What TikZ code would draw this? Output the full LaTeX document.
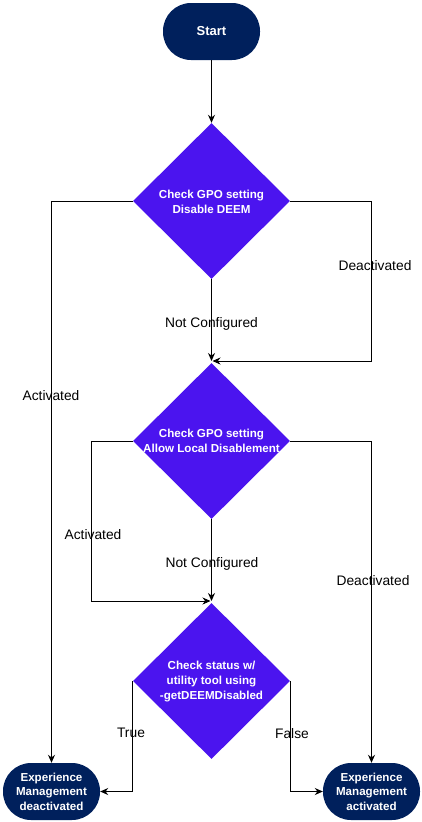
\documentclass[tikz,border=0pt]{standalone}
\usepackage{fontspec}
\setmainfont{Liberation Sans}
\usetikzlibrary{arrows.meta,shapes.geometric}
\definecolor{navy}{HTML}{00205C}
\definecolor{violet}{HTML}{4B14EF}
\begin{document}
\begin{tikzpicture}[x=1pt,y=-1pt,
  term/.style={fill=navy, draw=none, rounded corners=28pt, minimum width=97pt, minimum height=57pt, inner sep=0pt,
    text=white, font=\fontsize{11.6}{14.5}\selectfont\bfseries, align=center},
  dia/.style={diamond, fill=violet, draw=none, minimum width=157pt, minimum height=156pt, inner sep=0pt},
  diatext/.style={text=white, font=\fontsize{11.6}{15}\selectfont\bfseries, align=center, inner sep=0pt},
  conn/.style={draw=black, line width=0.9pt, -{Stealth[length=8pt,width=7pt]}},
  lab/.style={font=\fontsize{13.8}{16}\selectfont, text=black, inner sep=0pt}]
\useasboundingbox (0,0) rectangle (422,822);
\node[term, font=\fontsize{13}{15}\selectfont\bfseries] (start) at (211.5,31.5) {Start};
\node[dia] (d1) at (211.5,201) {};
\node[diatext] (d1t) at (211.5,201.5) {Check GPO setting\\Disable DEEM};
\node[dia] (d2) at (211.5,441) {};
\node[diatext] (d2t) at (211.5,440.5) {Check GPO setting\\Allow Local Disablement};
\node[dia] (d3) at (211.5,681) {};
\node[diatext] (d3t) at (211.5,681.5) {Check status w/\\utility tool using\\-getDEEMDisabled};
\node[term] (emd) at (51.5,791.5) {Experience\\Management\\deactivated};
\node[term] (ema) at (371.5,791.5) {Experience\\Management\\activated};
\coordinate (j1) at (211.5,361);
\coordinate (j1r) at (212.5,361);
\coordinate (j2) at (211.5,601);
\coordinate (j2l) at (210.5,601);
% connectors
\draw[conn] (start.south) -- (d1.north);
\draw[conn] (d1.west) -| (emd.north);
\draw[conn] (d1.south) -- (j1);
\draw[conn] (d1.east) -- (371,201) |- (j1r);
\draw[conn] (d2.south) -- (j2);
\draw[conn] (d2.west) -- (91,441) |- (j2l);
\draw[conn] (d2.east) -| (ema.north);
\draw[conn] (d3.west) |- (emd.east);
\draw[conn] (d3.east) |- (ema.west);
% labels
\node[lab] (l1) at (51,395.5) {Activated};
\node[lab] (l2) at (375,265.5) {Deactivated};
\node[lab] (l3) at (211.5,323.5) {Not Configured};
\node[lab] (l4) at (93,534.5) {Activated};
\node[lab] (l5) at (212,563.5) {Not Configured};
\node[lab] (l6) at (373,580.5) {Deactivated};
\node[lab] (l7) at (131,732.5) {True};
\node[lab] (l8) at (292,733.5) {False};
\end{tikzpicture}
\end{document}
